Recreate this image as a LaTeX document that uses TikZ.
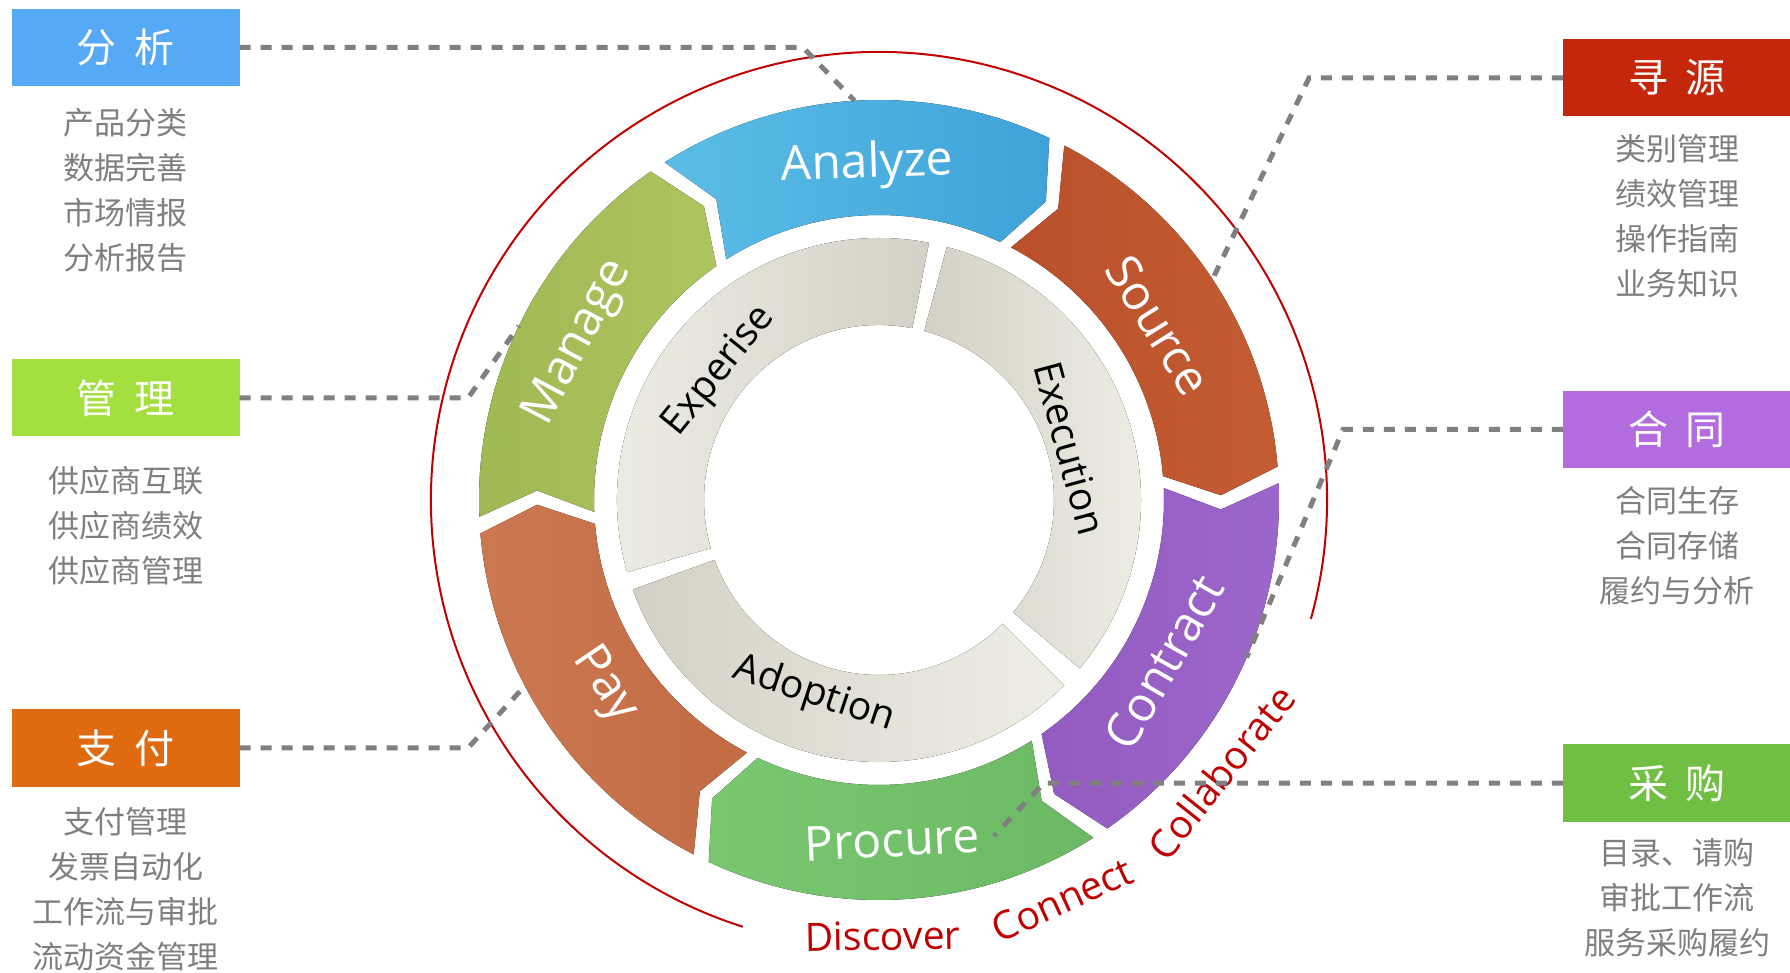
\documentclass[tikz,border=0pt]{standalone}
\usepackage{fontspec}
\setmainfont{Open Sans}
\newfontfamily\cjkfont{Noto Sans CJK SC}
\usetikzlibrary{positioning}

\definecolor{fenxiblue}{HTML}{55A9F5}
\definecolor{guanligreen}{HTML}{A3DF3F}
\definecolor{zhifuorange}{HTML}{E06A10}
\definecolor{xunyuanred}{HTML}{C4270B}
\definecolor{hetongpurple}{HTML}{B36BE0}
\definecolor{caigougreen}{HTML}{71BF42}
\definecolor{listgray}{HTML}{7F7F7F}
\definecolor{leadergray}{HTML}{808080}
\definecolor{mottored}{HTML}{C00000}
\definecolor{analyzeA}{HTML}{5BBDE6}
\definecolor{analyzeB}{HTML}{3FA3D9}
\definecolor{sourceA}{HTML}{B9502A}
\definecolor{sourceB}{HTML}{C45C33}
\definecolor{contractA}{HTML}{935BC0}
\definecolor{contractB}{HTML}{9D66CA}
\definecolor{procureA}{HTML}{7AC770}
\definecolor{procureB}{HTML}{6CB965}
\definecolor{payA}{HTML}{CB7850}
\definecolor{payB}{HTML}{C26B44}
\definecolor{manageA}{HTML}{9EB853}
\definecolor{manageB}{HTML}{ADC55F}
\definecolor{ringlight}{HTML}{EFEEE5}
\definecolor{ringdark}{HTML}{D3D1C5}

\tikzset{
  titlebox/.style={minimum width=228pt, minimum height=77pt, inner sep=0pt,
    text=white, font=\cjkfont\fontsize{40}{40}\selectfont},
  itemlist/.style={inner sep=0pt, align=center, text=listgray,
    font=\cjkfont\fontsize{31}{45}\selectfont},
  leader/.style={draw=leadergray, line width=5pt, dash pattern=on 11pt off 10pt},
  seglabel/.style={inner sep=0pt, text=white, font=\fontsize{48}{48}\selectfont},
  ringlabel/.style={inner sep=0pt, text=black, font=\fontsize{39}{39}\selectfont},
  motto/.style={inner sep=0pt, text=mottored, font=\fontsize{39}{39}\selectfont}
}

\begin{document}
\begin{tikzpicture}[x=1pt, y=1pt]
\useasboundingbox (0,0) rectangle (1790,972);

\begin{scope}[shift={(879,472)}]
  % thin red ring
  \draw[mottored, line width=2pt] (252.3:448) arc[start angle=252.3, end angle=-15.4, radius=448pt];
  % outer arrow segments
  \foreach \a/\ca/\cb in {123.6/analyzeA/analyzeB, 63.6/sourceA/sourceB, 3.6/contractA/contractB,
                          -56.4/procureA/procureB, -116.4/payA/payB, -176.4/manageA/manageB}{
    \pgfmathsetmacro\s{\a-1.2}
    \pgfmathsetmacro\e{\a-58.8}
    \fill[left color=\ca, right color=\cb]
      (\s:400) arc[start angle=\s, end angle=\e, radius=400pt]
      -- (\e-4:342) -- (\e:285)
      arc[start angle=\e, end angle=\s, radius=285pt]
      -- (\s-4:342) -- cycle;
  }
  % inner grey ring
  \foreach \s/\e/\ca/\cb in {196/79/ringlight/ringdark, 75/-40/ringdark/ringlight, -45/-160/ringdark/ringlight}{
    \fill[left color=\ca, right color=\cb]
      (\s:262) arc[start angle=\s, end angle=\e, radius=262pt]
      -- (\e:175) arc[start angle=\e, end angle=\s, radius=175pt] -- cycle;
  }

  \node[seglabel, rotate=2] (analyze) at (92:335) {Analyze};
  \node[seglabel, rotate=-58] (source) at (32:330) {Source};
  \node[seglabel, rotate=60.4] (contract) at (-29.6:328) {Contract};
  \node[seglabel, rotate=3] (procure) at (-87.8:340) {Procure};
  \node[seglabel, rotate=-56] (pay) at (214:331) {Pay};
  \node[seglabel, rotate=62.3] (manage) at (152.3:339) {Manage};

  \node[ringlabel, rotate=51.1] (experise) at (141.1:205) {Experise};
  \node[ringlabel, rotate=-74.8] (execution) at (15.2:198) {Execution};
  \node[ringlabel, rotate=-18.4] (adoption) at (251.6:205) {Adoption};

  \node[motto, rotate=1] (discover) at (-89.5:436) {Discover};
  \node[motto, rotate=24.6] (connect) at (-65.4:440) {Connect};
  \node[motto, rotate=51.5] (collaborate) at (-38.5:437) {Collaborate};

  \coordinate (fenxi end) at (93.5:400);
  \coordinate (guanli end) at (154.2:400);
  \coordinate (zhifu end) at (207.7:400);
  \coordinate (xunyuan end) at (33.5:400);
  \coordinate (hetong end) at (-23.2:400);
  \coordinate (caigou end) at (-71.1:355);
\end{scope}

% left side
\node[titlebox, fill=fenxiblue] (fenxi) at (125.5,924.5) {分\hspace{0.45em}析};
\node[itemlist, below=22pt of fenxi] (fenxi list) {产品分类\\数据完善\\市场情报\\分析报告};
\node[titlebox, fill=guanligreen] (guanli) at (125.5,574) {管\hspace{0.45em}理};
\node[itemlist, below=29pt of guanli] (guanli list) {供应商互联\\供应商绩效\\供应商管理};
\node[titlebox, fill=zhifuorange] (zhifu) at (125.5,224) {支\hspace{0.45em}付};
\node[itemlist, below=20pt of zhifu] (zhifu list) {支付管理\\发票自动化\\工作流与审批\\流动资金管理};

% right side
\node[titlebox, fill=xunyuanred] (xunyuan) at (1677,894) {寻\hspace{0.45em}源};
\node[itemlist, below=17pt of xunyuan] (xunyuan list) {类别管理\\绩效管理\\操作指南\\业务知识};
\node[titlebox, fill=hetongpurple] (hetong) at (1677,542.5) {合\hspace{0.45em}同};
\node[itemlist, below=18pt of hetong] (hetong list) {合同生存\\合同存储\\履约与分析};
\node[titlebox, fill=caigougreen] (caigou) at (1677,189) {采\hspace{0.45em}购};
\node[itemlist, below=17pt of caigou] (caigou list) {目录、请购\\审批工作流\\服务采购履约};

% dashed leaders
\coordinate (fenxi bend) at (803,924.5);
\coordinate (guanli bend) at (468,574);
\coordinate (zhifu bend) at (468,224);
\coordinate (xunyuan bend) at (1309,894);
\coordinate (hetong bend) at (1343,542.5);
\coordinate (caigou bend) at (1044,189);
\draw[leader] (fenxi.east) -- (fenxi bend) -- (fenxi end);
\draw[leader] (guanli.east) -- (guanli bend) -- (guanli end);
\draw[leader] (zhifu.east) -- (zhifu bend) -- (zhifu end);
\draw[leader] (xunyuan.west) -- (xunyuan bend) -- (xunyuan end);
\draw[leader] (hetong.west) -- (hetong bend) -- (hetong end);
\draw[leader] (caigou.west) -- (caigou bend) -- (caigou end);
\end{tikzpicture}
\end{document}
